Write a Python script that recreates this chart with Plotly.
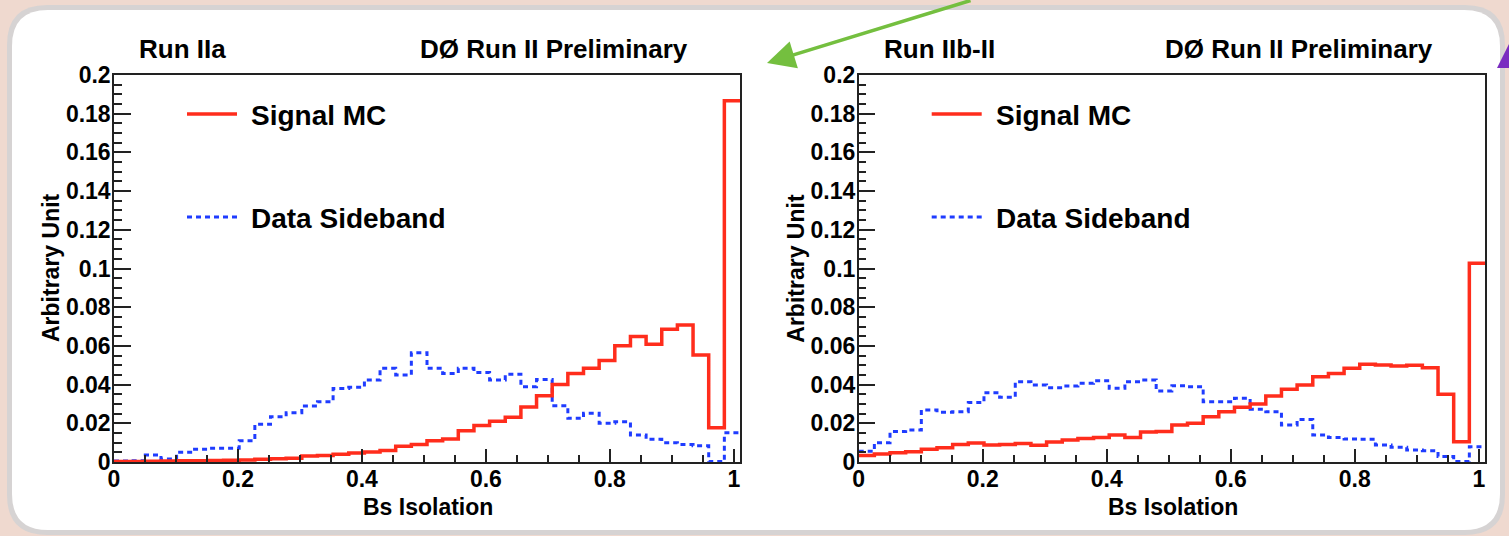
import numpy as np
import plotly.graph_objects as go

W, H = 1509, 536

# ---------------- data ----------------
bin_lo, bin_hi, n_bins = 0.0, 1.01, 40

left_signal = [0.0003, 0.0003, 0.0004, 0.0005, 0.0006, 0.0007, 0.0008, 0.0009,
               0.0010, 0.0014, 0.0017, 0.0020, 0.0031, 0.0034, 0.0040, 0.0046,
               0.0052, 0.0060, 0.0082, 0.0091, 0.0110, 0.0119, 0.0162, 0.0188,
               0.0210, 0.0231, 0.0284, 0.0343, 0.0401, 0.0458, 0.0484, 0.0524,
               0.0601, 0.0648, 0.0608, 0.0686, 0.0708, 0.0553, 0.0177, 0.1867]
left_sideband = [0.0005, 0.0007, 0.0036, 0.0015, 0.0050, 0.0066, 0.0071, 0.0071,
                 0.0110, 0.0195, 0.0234, 0.0255, 0.0289, 0.0312, 0.0380, 0.0386,
                 0.0424, 0.0484, 0.0450, 0.0565, 0.0484, 0.0458, 0.0484, 0.0462,
                 0.0424, 0.0453, 0.0389, 0.0427, 0.0291, 0.0226, 0.0252, 0.0200,
                 0.0208, 0.0140, 0.0117, 0.0100, 0.0091, 0.0084, 0.0002, 0.0151]
right_signal = [0.0033, 0.0041, 0.0048, 0.0053, 0.0066, 0.0074, 0.0091, 0.0098,
                0.0088, 0.0091, 0.0095, 0.0086, 0.0103, 0.0114, 0.0122, 0.0126,
                0.0140, 0.0126, 0.0155, 0.0157, 0.0191, 0.0200, 0.0234, 0.0260,
                0.0283, 0.0300, 0.0341, 0.0376, 0.0398, 0.0441, 0.0458, 0.0484,
                0.0505, 0.0501, 0.0496, 0.0500, 0.0487, 0.0350, 0.0105, 0.1027]
right_sideband = [0.0055, 0.0100, 0.0157, 0.0165, 0.0269, 0.0257, 0.0260, 0.0307,
                  0.0358, 0.0334, 0.0415, 0.0398, 0.0384, 0.0393, 0.0407, 0.0420,
                  0.0381, 0.0415, 0.0424, 0.0367, 0.0394, 0.0389, 0.0312, 0.0312,
                  0.0329, 0.0272, 0.0260, 0.0191, 0.0220, 0.0140, 0.0127, 0.0119,
                  0.0117, 0.0088, 0.0076, 0.0062, 0.0058, 0.0028, 0.0002, 0.0079]

y_tickvals = [0, 0.02, 0.04, 0.06, 0.08, 0.1, 0.12, 0.14, 0.16, 0.18, 0.2]
y_ticktext = ["0", "0.02", "0.04", "0.06", "0.08", "0.1", "0.12", "0.14", "0.16", "0.18", "0.2"]
x_tickvals = [0, 0.2, 0.4, 0.6, 0.8, 1.0]
x_ticktext = ["0", "0.2", "0.4", "0.6", "0.8", "1"]

panel_labels = ["Run IIa", "Run IIb-II"]
experiment_label = "DØ Run II Preliminary"
series_names = ["Signal MC", "Data Sideband"]
x_title = "Bs Isolation"
y_title = "Arbitrary Unit"

# ---------------- styling ----------------
RED = "#ff2d1c"
BLUE = "#1f3cff"
FONT = "Liberation Sans"

edges = np.linspace(bin_lo, bin_hi, n_bins + 1)


def step_xy(vals):
    return list(edges), list(vals) + [vals[-1]]


def P(x, y):
    return x / W, 1 - y / H


fig = go.Figure()

panels = [
    dict(sig=left_signal, bkg=left_sideband, x0=114, x1=740, xa="x", ya="y"),
    dict(sig=right_signal, bkg=right_sideband, x0=858.7, x1=1485, xa="x2", ya="y2"),
]
y_top, y_bot = 75, 462

for p in panels:
    xs, ys = step_xy(p["bkg"])
    fig.add_trace(go.Scatter(x=xs, y=ys, mode="lines", line_shape="hv",
                             line=dict(color=BLUE, width=3, dash="5px,4px"),
                             xaxis=p["xa"], yaxis=p["ya"], showlegend=False,
                             hoverinfo="skip"))
    xs, ys = step_xy(p["sig"])
    fig.add_trace(go.Scatter(x=xs, y=ys, mode="lines", line_shape="hv",
                             line=dict(color=RED, width=3.5),
                             xaxis=p["xa"], yaxis=p["ya"], showlegend=False,
                             hoverinfo="skip"))

tickfont = dict(family=FONT, size=23, color="black", weight="bold")
axis_common = dict(showgrid=False, zeroline=False, showline=True, linecolor="#222",
                   linewidth=1.5, mirror=True, ticks="inside", tickcolor="#222",
                   tickwidth=1.5, tickfont=tickfont, automargin=False)

for i, p in enumerate(panels):
    xk = "xaxis" if i == 0 else "xaxis2"
    yk = "yaxis" if i == 0 else "yaxis2"
    fig.layout[xk] = dict(domain=[p["x0"] / W, p["x1"] / W], range=[bin_lo, bin_hi],
                          tickvals=x_tickvals, ticktext=x_ticktext, ticklen=13,
                          ticklabelstandoff=-4,
                          minor=dict(ticks="inside", ticklen=7, tick0=0, dtick=0.05,
                                     tickcolor="#222", tickwidth=1.5),
                          anchor="y" if i == 0 else "y2", **axis_common)
    fig.layout[yk] = dict(domain=[1 - y_bot / H, 1 - y_top / H], range=[0, 0.2],
                          tickvals=y_tickvals, ticktext=y_ticktext, ticklen=17,
                          ticklabelstandoff=-3,
                          minor=dict(ticks="inside", ticklen=8, tick0=0, dtick=0.005,
                                     tickcolor="#222", tickwidth=1.5),
                          anchor="x" if i == 0 else "x2", **axis_common)

# ---------------- background (slide) ----------------
def rounded_rect(x0, y0, x1, y1, r):
    def pt(x, y):
        a, b = P(x, y)
        return f"{a:.6f},{b:.6f}"
    path = (f"M {pt(x0 + r, y0)} L {pt(x1 - r, y0)} Q {pt(x1, y0)} {pt(x1, y0 + r)} "
            f"L {pt(x1, y1 - r)} Q {pt(x1, y1)} {pt(x1 - r, y1)} "
            f"L {pt(x0 + r, y1)} Q {pt(x0, y1)} {pt(x0, y1 - r)} "
            f"L {pt(x0, y0 + r)} Q {pt(x0, y0)} {pt(x0 + r, y0)} Z")
    return path

shapes = []
shapes.append(dict(type="path", xref="paper", yref="paper", layer="below",
                   path=rounded_rect(7, 5, 1505, 535, 40),
                   fillcolor="#d6d3d3", line=dict(width=0)))
shapes.append(dict(type="path", xref="paper", yref="paper", layer="below",
                   path=rounded_rect(12, 10, 1500, 530, 36),
                   fillcolor="white", line=dict(width=0)))
# purple triangle at top right
tri = f"M {P(1497,68)[0]},{P(1497,68)[1]} L {P(1509,68)[0]},{P(1509,68)[1]} L {P(1509,44)[0]},{P(1509,44)[1]} Z"
shapes.append(dict(type="path", xref="paper", yref="paper", path=tri,
                   fillcolor="#7a2cc0", line=dict(width=0)))

# legends
annotations = []
for p in panels:
    off = p["x0"] - 114
    for (yy, col, dash, name) in [(114, RED, "solid", series_names[0]),
                                  (217, BLUE, "5px,4px", series_names[1])]:
        a0 = P(187 + off, yy)
        a1 = P(237 + off, yy)
        shapes.append(dict(type="line", xref="paper", yref="paper",
                           x0=a0[0], y0=a0[1], x1=a1[0], y1=a1[1],
                           line=dict(color=col, width=3.5 if dash == "solid" else 3, dash=dash)))
        t = P(249 + off, yy + 1)
        annotations.append(dict(x=t[0], y=t[1], xref="paper", yref="paper", text=name,
                                showarrow=False, xanchor="left", yanchor="middle",
                                font=dict(family=FONT, size=28, color="black", weight="bold")))

title_font = dict(family=FONT, size=26, color="black", weight="bold")
label_font = dict(family=FONT, size=23, color="black", weight="bold")
for i, p in enumerate(panels):
    off = p["x0"] - 114
    t = P(137 + off, 49)
    annotations.append(dict(x=t[0], y=t[1], xref="paper", yref="paper", text=panel_labels[i],
                            showarrow=False, xanchor="left", yanchor="middle", font=title_font))
    t = P(690 + off, 49)
    annotations.append(dict(x=t[0], y=t[1], xref="paper", yref="paper", text=experiment_label,
                            showarrow=False, xanchor="right", yanchor="middle", font=title_font))
    t = P(428 + off, 507)
    annotations.append(dict(x=t[0], y=t[1], xref="paper", yref="paper", text=x_title,
                            showarrow=False, xanchor="center", yanchor="middle", font=label_font))
    t = P(51 + off, 268)
    annotations.append(dict(x=t[0], y=t[1], xref="paper", yref="paper", text=y_title,
                            showarrow=False, xanchor="center", yanchor="middle", textangle=-90,
                            font=label_font))

# green arrow
h = P(767, 63)
annotations.append(dict(x=h[0], y=h[1], xref="paper", yref="paper", text="",
                        showarrow=True, ax=205, ay=-68, axref="pixel", ayref="pixel",
                        arrowcolor="#74bf3f", arrowwidth=3.5, arrowhead=2, arrowsize=1.6))

fig.update_layout(width=W, height=H, margin=dict(l=0, r=0, t=0, b=0),
                  paper_bgcolor="#efd9cf", plot_bgcolor="rgba(0,0,0,0)",
                  shapes=shapes, annotations=annotations, showlegend=False)

fig.write_html("out.html")
